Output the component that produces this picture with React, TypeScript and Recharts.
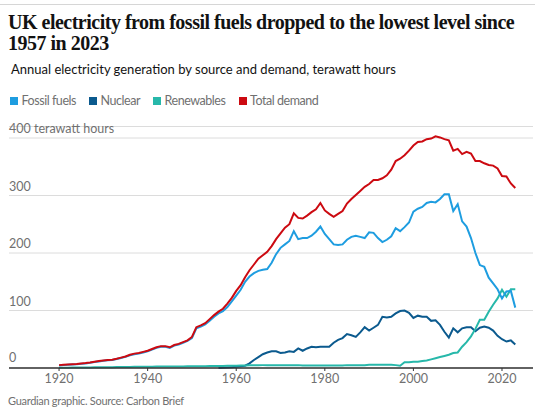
import { LineChart, Line, XAxis, YAxis, CartesianGrid } from "recharts";

const FIRST_YEAR = 1920;
const NUCLEAR_FIRST_YEAR = 1956;

// TWh, 1920-2023
const demand = [
  5, 5.5, 6, 6.5, 7, 8, 8.5, 9.5, 11, 12,
  13, 14, 14.5, 16, 18, 20, 23, 25, 26, 28,
  30, 33, 36, 38, 38, 36, 40, 42, 45, 48,
  54, 71, 74, 78, 85, 92, 98, 103, 112, 122,
  134, 144, 158, 170, 180, 190, 196, 202, 212, 224,
  234, 244, 250, 269, 261, 260, 265, 271, 276, 287,
  274, 268, 263, 268, 273, 286, 294, 301, 308, 315,
  320, 327, 327, 330, 335, 345, 360, 364, 370, 378,
  387, 393, 394, 398, 399, 403, 401, 398, 396, 378,
  381, 372, 376, 373, 360, 360, 356, 353, 352, 347,
  334, 333, 321, 313,
];

const fossil = [
  4.5, 5, 5.5, 6, 6.5, 7.5, 8, 9, 10.5, 11.5,
  12.5, 13.5, 14, 15.5, 17.5, 19.5, 22, 24, 25, 27,
  29, 32, 35, 37, 37, 35, 39, 41, 44, 47,
  52, 69, 72, 76, 82, 89, 95, 99, 106, 116,
  126, 136, 150, 159, 165, 169, 171, 172, 183, 198,
  209, 215, 221, 238, 224, 226, 226, 230, 237, 246,
  233, 224, 215, 214, 215, 223, 228, 230, 228, 226,
  236, 235, 226, 219, 223, 229, 243, 238, 245, 253,
  272, 277, 280, 287, 289, 288, 294, 302, 302, 273,
  285, 255, 246, 226, 200, 179, 176, 157, 147, 137,
  121, 133, 134, 105,
];

// TWh, 1956-2023
const nuclear = [
  0.1, 0.5, 1, 1.5,
  2, 3, 4, 8, 14, 19, 24, 27, 29, 29,
  26, 27, 29, 28, 34, 30, 34, 37, 36, 37,
  37, 37, 44, 49, 52, 59, 57, 54, 62, 71,
  65, 70, 75, 89, 88, 89, 95, 99, 100, 96,
  87, 91, 89, 89, 82, 83, 75, 63, 53, 69,
  62, 69, 71, 71, 64, 70, 72, 70, 65, 56,
  50, 46, 48, 41,
];

const renewables = [
  0.5, 0.5, 0.6, 0.7, 0.8, 0.9, 1, 1, 1.1, 1.2,
  1.3, 1.4, 1.5, 1.6, 1.7, 1.8, 1.9, 2, 2, 2.1,
  2.2, 2.3, 2.4, 2.5, 2.5, 2.6, 2.7, 2.7, 2.8, 2.9,
  3, 3, 3.1, 3.2, 3.3, 3.4, 3.5, 3.6, 3.8, 3.9,
  4, 4.2, 4.5, 4.6, 4.7, 4.9, 5, 5, 5, 5,
  5, 5, 5, 5, 5, 4.5, 4.5, 4.5, 4.5, 4.5,
  4.5, 4.5, 4.5, 4.5, 4.5, 5, 5, 5, 5, 5,
  5.5, 5.5, 5.5, 5.5, 5.5, 5.5, 5, 4, 10, 10,
  11, 11, 12, 13, 15, 17, 19, 21, 23, 26,
  27, 37, 45, 55, 68, 84, 84, 98, 110, 121,
  136, 124, 137, 137,
];

const xTicks = [1920, 1940, 1960, 1980, 2000, 2020];
const yTicks = [0, 100, 200, 300, 400];

const series = [
  { key: "fossil", name: "Fossil fuels", color: "#1e9de0" },
  { key: "nuclear", name: "Nuclear", color: "#0b5a8e" },
  { key: "renewables", name: "Renewables", color: "#27b8aa" },
  { key: "demand", name: "Total demand", color: "#cc0a11" },
];

const data = demand.map((d, i) => {
  const year = FIRST_YEAR + i;
  return {
    year,
    demand: d,
    fossil: fossil[i],
    renewables: renewables[i],
    nuclear: year >= NUCLEAR_FIRST_YEAR ? nuclear[year - NUCLEAR_FIRST_YEAR] : null,
  };
});

const SANS = "Lato, 'Noto Sans', sans-serif";
const GREY = "#707070";
const PLOT_LEFT = 9;
const Y_AXIS_W = 40;

// eslint-disable-next-line @typescript-eslint/no-explicit-any
function YTick(props: any) {
  const { y, payload } = props;
  const v = payload.value;
  return (
    <text
      x={PLOT_LEFT}
      y={v === 0 ? y - 6.5 : y - 5}
      fill={GREY}
      fontSize={12.5}
      fontFamily={SANS}
      textAnchor="start"
    >
      {v === 400 ? "400 terawatt hours" : v}
    </text>
  );
}

// eslint-disable-next-line @typescript-eslint/no-explicit-any
function XTick(props: any) {
  const { x, y, payload } = props;
  return (
    <text x={x} y={y + 10} fill={GREY} fontSize={12.5} fontFamily={SANS} textAnchor="middle">
      {payload.value}
    </text>
  );
}

export default function App() {
  return (
    <div
      style={{
        position: "fixed",
        left: 0,
        top: 0,
        width: 540,
        height: 413,
        background: "#fff",
        overflow: "hidden",
      }}
    >
      <LineChart
        width={540}
        height={413}
        data={data}
        margin={{ top: 126.5, right: 7, left: PLOT_LEFT - Y_AXIS_W, bottom: 15 }}
      >
        <CartesianGrid vertical={false} stroke="#dcdcdc" />
        <XAxis
          dataKey="year"
          type="number"
          domain={[1908.7, 2027]}
          ticks={xTicks}
          height={30}
          axisLine={{ stroke: "#333", strokeWidth: 1.5 }}
          tickLine={{ stroke: "#333" }}
          tickSize={3}
          tickMargin={2}
          tick={<XTick />}
          interval={0}
        />
        <YAxis
          type="number"
          domain={[0, 420]}
          ticks={yTicks}
          width={Y_AXIS_W}
          axisLine={false}
          tickLine={false}
          tick={<YTick />}
          interval={0}
        />
        {["nuclear", "renewables", "fossil", "demand"].map((k) => {
          const s = series.find((x) => x.key === k)!;
          return (
            <Line
              key={k}
              type="linear"
              dataKey={k}
              stroke={s.color}
              strokeWidth={2}
              dot={false}
              activeDot={false}
              isAnimationActive={false}
            />
          );
        })}
      </LineChart>

      <div style={{ position: "absolute", left: 0, top: 4, width: 535, height: 1, background: "#d6d6d6" }} />

      <div
        style={{
          position: "absolute",
          left: 8,
          top: 12,
          fontFamily: "'Liberation Serif', serif",
          fontWeight: 700,
          fontSize: 20,
          lineHeight: "21px",
          letterSpacing: -0.5,
          color: "#121212",
          whiteSpace: "nowrap",
        }}
      >
        UK electricity from fossil fuels dropped to the lowest level since
        <br />
        1957 in 2023
      </div>

      <div
        style={{
          position: "absolute",
          left: 11,
          top: 61,
          fontFamily: SANS,
          fontSize: 13,
          lineHeight: "16px",
          color: "#121212",
          whiteSpace: "nowrap",
        }}
      >
        Annual electricity generation by source and demand, terawatt hours
      </div>

      <div
        style={{
          position: "absolute",
          left: 10,
          top: 93,
          display: "flex",
          alignItems: "center",
          fontFamily: SANS,
          fontSize: 12.5,
          letterSpacing: -0.45,
          lineHeight: "16px",
          color: GREY,
          whiteSpace: "nowrap",
        }}
      >
        {series.map((s) => (
          <div key={s.key} style={{ display: "flex", alignItems: "center", marginRight: 13 }}>
            <span style={{ width: 8, height: 8, background: s.color, marginRight: 3.5, display: "inline-block" }} />
            {s.name}
          </div>
        ))}
      </div>

      <div
        style={{
          position: "absolute",
          left: 8,
          top: 394,
          fontFamily: SANS,
          fontSize: 11,
          letterSpacing: -0.3,
          lineHeight: "14px",
          color: GREY,
          whiteSpace: "nowrap",
        }}
      >
        Guardian graphic. Source: Carbon Brief
      </div>
    </div>
  );
}
